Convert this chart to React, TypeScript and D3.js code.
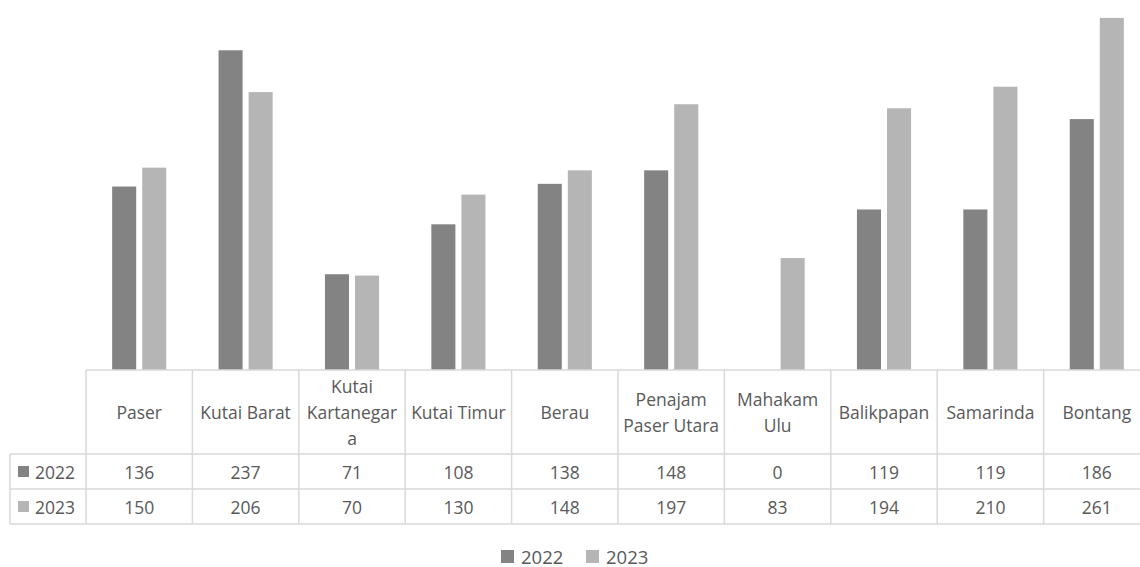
import React from 'react';
import * as d3 from 'd3';

const categories = ['Paser', 'Kutai Barat', 'Kutai Kartanegara', 'Kutai Timur', 'Berau', 'Penajam Paser Utara', 'Mahakam Ulu', 'Balikpapan', 'Samarinda', 'Bontang'];
// header lines as wrapped in the data table
const headerLines = [['Paser'], ['Kutai Barat'], ['Kutai', 'Kartanegar', 'a'], ['Kutai Timur'], ['Berau'], ['Penajam', 'Paser Utara'], ['Mahakam', 'Ulu'], ['Balikpapan'], ['Samarinda'], ['Bontang']];
const series = ['2022', '2023'];
const values2022 = [136, 237, 71, 108, 138, 148, 0, 119, 119, 186];
const values2023 = [150, 206, 70, 130, 148, 197, 83, 194, 210, 261];
const colors = ['#838383', '#b5b5b5'];

const W = 1140, H = 567;
const FONT = '"Open Sans", sans-serif';
const TXT = '#595959';
const GRID = '#d9d9d9';

export default function App() {
  const seriesValues = [values2022, values2023];
  const tableLeft = 86, tableRight = 1150, baseY = 370;
  const headerBottom = 454, row1Bottom = 489, row2Bottom = 524, labelLeft = 10;

  const x0 = d3.scaleBand().domain(categories).range([tableLeft, tableRight]).padding(0);
  const x1 = d3.scaleBand().domain(series).range([0, x0.bandwidth()]).paddingInner(0.2).paddingOuter(0.87);
  const y = d3.scaleLinear().domain([0, 270]).range([baseY, baseY - 270 * 1.349]);

  const lineH = 26;
  const headerMid = (baseY + headerBottom) / 2 - 0.5;
  const rowBottoms = [row1Bottom, row2Bottom];
  const rowTops = [headerBottom, row1Bottom];

  return (
    <svg width={W} height={H} style={{ position: 'absolute', left: 0, top: 0, background: '#fff' }} fontFamily={FONT}>
      {/* bars */}
      {series.map((s, si) => (
        <g key={s}>
          {categories.map((c, i) => {
            const v = seriesValues[si][i];
            if (!v) return null;
            return (
              <rect key={c} x={x0(c)! + x1(s)!} y={y(v)} width={x1.bandwidth()} height={baseY - y(v)} fill={colors[si]} />
            );
          })}
        </g>
      ))}

      {/* data table grid */}
      <g stroke={GRID} strokeWidth={1.5} fill="none">
        <line x1={tableLeft} x2={tableRight} y1={baseY} y2={baseY} />
        <line x1={labelLeft} x2={tableRight} y1={headerBottom} y2={headerBottom} />
        <line x1={labelLeft} x2={tableRight} y1={row1Bottom} y2={row1Bottom} />
        <line x1={labelLeft} x2={tableRight} y1={row2Bottom} y2={row2Bottom} />
        <line x1={labelLeft} x2={labelLeft} y1={headerBottom} y2={row2Bottom} />
        {categories.map(c => (
          <line key={c} x1={x0(c)!} x2={x0(c)!} y1={baseY} y2={row2Bottom} />
        ))}
        <line x1={tableRight} x2={tableRight} y1={baseY} y2={row2Bottom} />
      </g>

      {/* header labels */}
      <g fill={TXT} fontSize={17.5} textAnchor="middle">
        {categories.map((c, i) => {
          const lines = headerLines[i];
          const start = headerMid - ((lines.length - 1) * lineH) / 2;
          return (
            <text key={c} x={x0(c)! + x0.bandwidth() / 2} y={start} dominantBaseline="central">
              {lines.map((l, j) => (
                <tspan key={j} x={x0(c)! + x0.bandwidth() / 2} y={start + j * lineH}>{l}</tspan>
              ))}
            </text>
          );
        })}
      </g>

      {/* value rows */}
      {series.map((s, si) => {
        const mid = (rowTops[si] + rowBottoms[si]) / 2;
        return (
          <g key={s} fill={TXT} fontSize={17.5}>
            <rect x={18} y={mid - 5.5} width={11} height={11} fill={colors[si]} />
            <text x={35} y={mid} dominantBaseline="central">{s}</text>
            {categories.map((c, i) => (
              <text key={c} x={x0(c)! + x0.bandwidth() / 2} y={mid} textAnchor="middle" dominantBaseline="central">
                {seriesValues[si][i]}
              </text>
            ))}
          </g>
        );
      })}

      {/* legend */}
      <g fill={TXT} fontSize={18.5}>
        {series.map((s, si) => {
          const lx = 501 + si * 85;
          return (
            <g key={s}>
              <rect x={lx} y={550} width={13} height={13} fill={colors[si]} />
              <text x={lx + 20} y={556} dominantBaseline="central">{s}</text>
            </g>
          );
        })}
      </g>
    </svg>
  );
}
